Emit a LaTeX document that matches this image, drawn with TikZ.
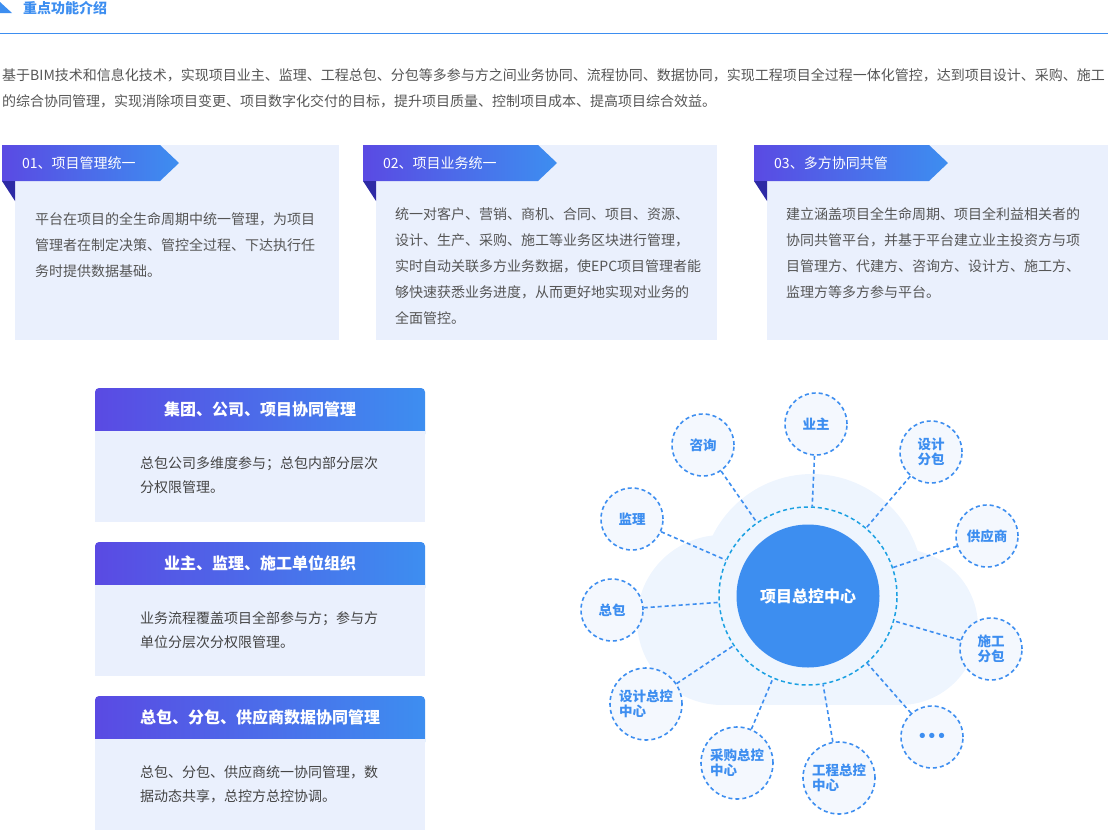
\documentclass[tikz,border=0pt]{standalone}
\usepackage{fontspec}
\setmainfont{Noto Sans CJK SC}
\newfontfamily\dotfont{DejaVu Sans}

\definecolor{brand}{HTML}{3D8EF0}
\definecolor{bannerleft}{HTML}{5A4AE3}
\definecolor{foldcolor}{HTML}{2D2AA5}
\definecolor{cardbg}{HTML}{EAF0FD}
\definecolor{cloudbg}{HTML}{EEF5FE}
\definecolor{satbg}{HTML}{F4F8FE}
\definecolor{ringcolor}{HTML}{1BA0E2}
\definecolor{textgray}{HTML}{555555}
\colorlet{boxtextgray}{textgray!80!black}

\def\cardfont{\fontsize{14}{26}\selectfont}
\def\boxfont{\fontsize{14}{24}\selectfont}
\tikzset{banner/.style={left color=bannerleft, right color=brand},
    cardtext/.style={anchor=north west, inner sep=0pt, align=left, text=textgray, font=\cardfont},
    boxtext/.style={anchor=north west, inner sep=0pt, align=left, text=boxtextgray, font=\boxfont},
    bannerlabel/.style={anchor=west, inner sep=0pt, text=white, font=\fontsize{14}{16}\selectfont},
    boxtitle/.style={inner sep=0pt, text=white, font=\fontsize{16}{18}\selectfont\bfseries},
    sat/.style={circle, draw=brand, fill=satbg, line width=1.6pt, dash pattern=on 4pt off 3pt,
        inner sep=0pt, text=brand, align=left, font=\fontsize{13.5}{15.5}\selectfont\bfseries},
    link/.style={draw=brand, line width=1.6pt, dash pattern=on 4pt off 3pt}}

\begin{document}
\begin{tikzpicture}[x=1pt, y=-1pt]
    \useasboundingbox (0,0) rectangle (1108,830);
    % heading
    \fill[brand] (0,2) -- (0,13) -- (12,13) -- cycle;
    \node[anchor=west, inner sep=0pt, text=brand, font=\fontsize{14}{16}\selectfont\bfseries]
        (heading) at (23,8) {重点功能介绍};
    \draw[brand, line width=1pt] (0,33) -- (1108,33);
    \node[cardtext] (intro) at (2,68)
        {基于BIM技术和信息化技术，实现项目业主、监理、工程总包、分包等多参与方之间业务协同、流程协同、数据协同，实现工程项目全过程一体化管控，达到项目设计、采购、施工\\
         的综合协同管理，实现消除项目变更、项目数字化交付的目标，提升项目质量、控制项目成本、提高项目综合效益。};

    % three cards
    \foreach \x/\tip/\right in {2/179/339, 363/557/717, 754/948/1108} {
        \fill[cardbg] (\x+13,145) rectangle (\right,340);
        \shade[banner] (\x,145) -- (\tip-19,145) -- (\tip,163) -- (\tip-19,181) -- (\x,181) -- cycle;
        \fill[foldcolor] (\x,181) -- (\x+13,181) -- (\x+13,201) -- cycle;
    }
    \node[bannerlabel] (label1) at (22,163) {01、项目管理统一};
    \node[bannerlabel] (label2) at (383,163) {02、项目业务统一};
    \node[bannerlabel] (label3) at (774,163) {03、多方协同共管};
    \node[cardtext] (card1) at (35,212)
        {平台在项目的全生命周期中统一管理，为项目\\管理者在制定决策、管控全过程、下达执行任\\务时提供数据基础。};
    \node[cardtext] (card2) at (395,207)
        {统一对客户、营销、商机、合同、项目、资源、\\设计、生产、采购、施工等业务区块进行管理，\\实时自动关联多方业务数据，使EPC项目管理者能\\够快速获悉业务进度，从而更好地实现对业务的\\全面管控。};
    \node[cardtext] (card3) at (786,207)
        {建立涵盖项目全生命周期、项目全利益相关者的\\协同共管平台，并基于平台建立业主投资方与项\\目管理方、代建方、咨询方、设计方、施工方、\\监理方等多方参与平台。};

    % left boxes
    \foreach \y in {388,542,696} {
        \shade[banner, rounded corners=4pt] (95,\y) rectangle (425,\y+50);
        \fill[cardbg] (95,\y+43) rectangle (425,\y+134);
    }
    \node[boxtitle] (title1) at (260,409.5) {集团、公司、项目协同管理};
    \node[boxtitle] (title2) at (260,563.5) {业主、监理、施工单位组织};
    \node[boxtitle] (title3) at (260,717.5) {总包、分包、供应商数据协同管理};
    \node[boxtext] (box1) at (140,456) {总包公司多维度参与；总包内部分层次\\分权限管理。};
    \node[boxtext] (box2) at (140,611) {业务流程覆盖项目全部参与方；参与方\\单位分层次分权限管理。};
    \node[boxtext] (box3) at (140,765) {总包、分包、供应商统一协同管理，数\\据动态共享，总控方总控协调。};

    % cloud and hub
    \foreach \cx/\cy/\r in {722/620/85, 900/627/78, 812/585/111}
        \fill[cloudbg] (\cx,\cy) circle (\r pt);
    \fill[cloudbg] (722,620) rectangle (900,705);
    \node[circle, draw=ringcolor, line width=1.5pt, dash pattern=on 4pt off 3pt,
        inner sep=0pt, minimum size=178pt] (ring) at (808,596) {};
    \node[circle, fill=brand, inner sep=0pt, minimum size=143pt, text=white,
        font=\fontsize{16}{18}\selectfont\bfseries] (hub) at (808,596) {项目总控中心};
    \foreach \name/\x/\y/\d/\txt in {yezhu/816/424/62/业主, zixun/703/445/62/咨询,
            shejifb/931/452/62/{设计\\分包}, jianli/632/519/62/监理, gongying/987/536/62/供应商,
            zongbao/612/610/62/总包, shigongfb/991/649/62/{施工\\分包},
            shejizk/646/704/72/{设计总控\\中心}, caigou/737/763/72/{采购总控\\中心},
            gongcheng/839/778/72/{工程总控\\中心}, more/932/737/62/{{\dotfont\fontsize{15}{15}\selectfont •••}}} {
        \node[sat, minimum size=\d pt] (\name) at (\x,\y) {\txt};
        \draw[link] (\name) -- (ring);
    }
\end{tikzpicture}
\end{document}
